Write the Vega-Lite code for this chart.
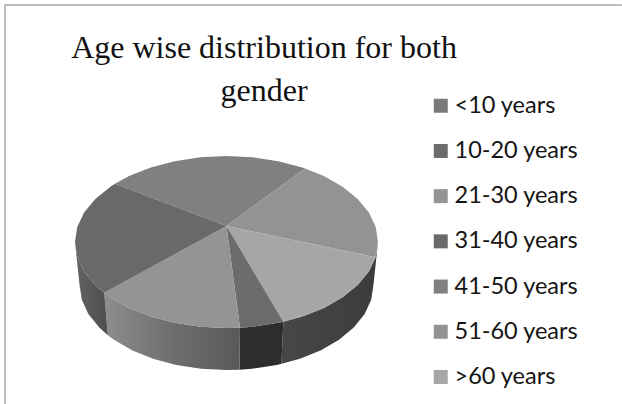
{
  "$schema": "https://vega.github.io/schema/vega-lite/v6.json",
  "width": 622,
  "height": 404,
  "autosize": "none",
  "padding": 0,
  "background": "#ffffff",
  "view": {"stroke": null},
  "title": {
    "text": ["Age wise distribution for both", "gender"],
    "font": "Liberation Serif",
    "fontSize": 32,
    "fontWeight": "normal",
    "color": "#111111",
    "lineHeight": 43,
    "anchor": "start",
    "align": "center",
    "frame": "group",
    "orient": "top",
    "offset": 0,
    "dx": 264,
    "dy": 108
  },
  "projection": {"type": "identity", "reflectY": true, "scale": 1.515, "translate": [226.5, 242]},
  "layer": [
    {
      "data": {"values": [
        {"type": "Feature", "properties": {}, "geometry": {"type": "LineString", "coordinates": [[-146.2, -107], [-146.2, 156.4], [261, 156.4]]}}
      ]},
      "mark": {"type": "geoshape", "filled": false, "stroke": "#a9a9a9", "strokeWidth": 1.5}
    },
    {
      "data": {"values": [
        {"type": "Feature", "properties": {"wall": "right"}, "geometry": {"type": "Polygon", "coordinates": [[[100, 0], [98.5, -9.86], [94, -19.43], [86.6, -28.4], [76.6, -36.51], [64.3, -43.51], [50, -49.19], [37.5, -52.66], [36.3, -80.41], [48.5, -76.98], [62.4, -71.38], [74.3, -64.46], [84, -56.45], [91.2, -47.59], [95.5, -38.14], [97, -28.4], [100, 0]]]}}
      ]},
      "mark": {"type": "geoshape", "fill": {"gradient": "linear", "x1": 0, "x2": 1, "y1": 0, "y2": 0, "stops": [{"offset": 0, "color": "#474747"}, {"offset": 1, "color": "#3c3c3c"}]}}
    },
    {
      "data": {"values": [
        {"type": "Feature", "properties": {"wall": "narrow"}, "geometry": {"type": "Polygon", "coordinates": [[[37.5, -52.66], [34.2, -53.37], [17.4, -55.94], [8.9, -56.58], [8.6, -84.28], [16.8, -83.65], [33.2, -81.12], [36.3, -80.41], [37.5, -52.66]]]}}
      ]},
      "mark": {"type": "geoshape", "fill": "#2d2d2d"}
    },
    {
      "data": {"values": [
        {"type": "Feature", "properties": {"wall": "front"}, "geometry": {"type": "Polygon", "coordinates": [[[8.9, -56.58], [0, -56.8], [-17.4, -55.94], [-34.2, -53.37], [-50, -49.19], [-64.3, -43.51], [-76.6, -36.51], [-80.7, -33.55], [-78.3, -61.5], [-74.3, -64.46], [-62.4, -71.38], [-48.5, -76.98], [-33.2, -81.12], [-16.8, -83.65], [0, -84.5], [8.6, -84.28], [8.9, -56.58]]]}}
      ]},
      "mark": {"type": "geoshape", "fill": {"gradient": "linear", "x1": 0, "x2": 1, "y1": 0, "y2": 0, "stops": [{"offset": 0, "color": "#8e8e8e"}, {"offset": 0.5, "color": "#6e6e6e"}, {"offset": 1, "color": "#585858"}]}}
    },
    {
      "data": {"values": [
        {"type": "Feature", "properties": {"wall": "left"}, "geometry": {"type": "Polygon", "coordinates": [[[-80.7, -33.55], [-86.6, -28.4], [-94, -19.43], [-98.5, -9.86], [-100, 0], [-97, -28.4], [-95.5, -38.14], [-91.2, -47.59], [-84, -56.45], [-78.3, -61.5], [-80.7, -33.55]]]}}
      ]},
      "mark": {"type": "geoshape", "fill": {"gradient": "linear", "x1": 0, "x2": 1, "y1": 0, "y2": 0, "stops": [{"offset": 0, "color": "#636363"}, {"offset": 1, "color": "#4e4e4e"}]}}
    },
    {
      "data": {"values": [
        {"type": "Feature", "properties": {"age": "41-50 years"}, "geometry": {"type": "Polygon", "coordinates": [[[0, 10.56], [-73.6, 38.47], [-64.3, 43.51], [-50, 49.19], [-34.2, 53.37], [-17.4, 55.94], [0, 56.8], [17.4, 55.94], [34.2, 53.37], [50, 49.19], [51.8, 48.58], [0, 10.56]]]}},
        {"type": "Feature", "properties": {"age": "51-60 years"}, "geometry": {"type": "Polygon", "coordinates": [[[0, 10.56], [51.8, 48.58], [64.3, 43.51], [76.6, 36.51], [86.6, 28.4], [94, 19.43], [98.5, 9.86], [100, 0], [98.4, -10.06], [0, 10.56]]]}},
        {"type": "Feature", "properties": {"age": ">60 years"}, "geometry": {"type": "Polygon", "coordinates": [[[0, 10.56], [98.4, -10.06], [94, -19.43], [86.6, -28.4], [76.6, -36.51], [64.3, -43.51], [50, -49.19], [37.5, -52.66], [0, 10.56]]]}},
        {"type": "Feature", "properties": {"age": "10-20 years"}, "geometry": {"type": "Polygon", "coordinates": [[[0, 10.56], [37.5, -52.66], [34.2, -53.37], [17.4, -55.94], [8.9, -56.58], [0, 10.56]]]}},
        {"type": "Feature", "properties": {"age": "21-30 years"}, "geometry": {"type": "Polygon", "coordinates": [[[0, 10.56], [8.9, -56.58], [0, -56.8], [-17.4, -55.94], [-34.2, -53.37], [-50, -49.19], [-64.3, -43.51], [-76.6, -36.51], [-80.7, -33.55], [0, 10.56]]]}},
        {"type": "Feature", "properties": {"age": "31-40 years"}, "geometry": {"type": "Polygon", "coordinates": [[[0, 10.56], [-80.7, -33.55], [-86.6, -28.4], [-94, -19.43], [-98.5, -9.86], [-100, 0], [-98.5, 9.86], [-94, 19.43], [-86.6, 28.4], [-76.6, 36.51], [-73.6, 38.47], [0, 10.56]]]}}
      ]},
      "mark": {"type": "geoshape", "strokeWidth": 0},
      "encoding": {
        "color": {
          "field": "properties.age",
          "type": "nominal",
          "title": null,
          "scale": {
            "domain": ["<10 years", "10-20 years", "21-30 years", "31-40 years", "41-50 years", "51-60 years", ">60 years"],
            "range": ["#7a7a7a", "#6c6c6c", "#949494", "#696969", "#808080", "#939393", "#a6a6a6"]
          },
          "legend": {
            "orient": "none",
            "legendX": 429,
            "legendY": 94,
            "symbolType": "square",
            "symbolSize": 196,
            "symbolStrokeWidth": 0,
            "labelFont": "Lato",
            "labelFontSize": 23.5,
            "labelColor": "#141414",
            "labelOffset": 2,
            "labelLimit": 180,
            "rowPadding": 20.2,
            "padding": 0
          }
        }
      }
    }
  ]
}
